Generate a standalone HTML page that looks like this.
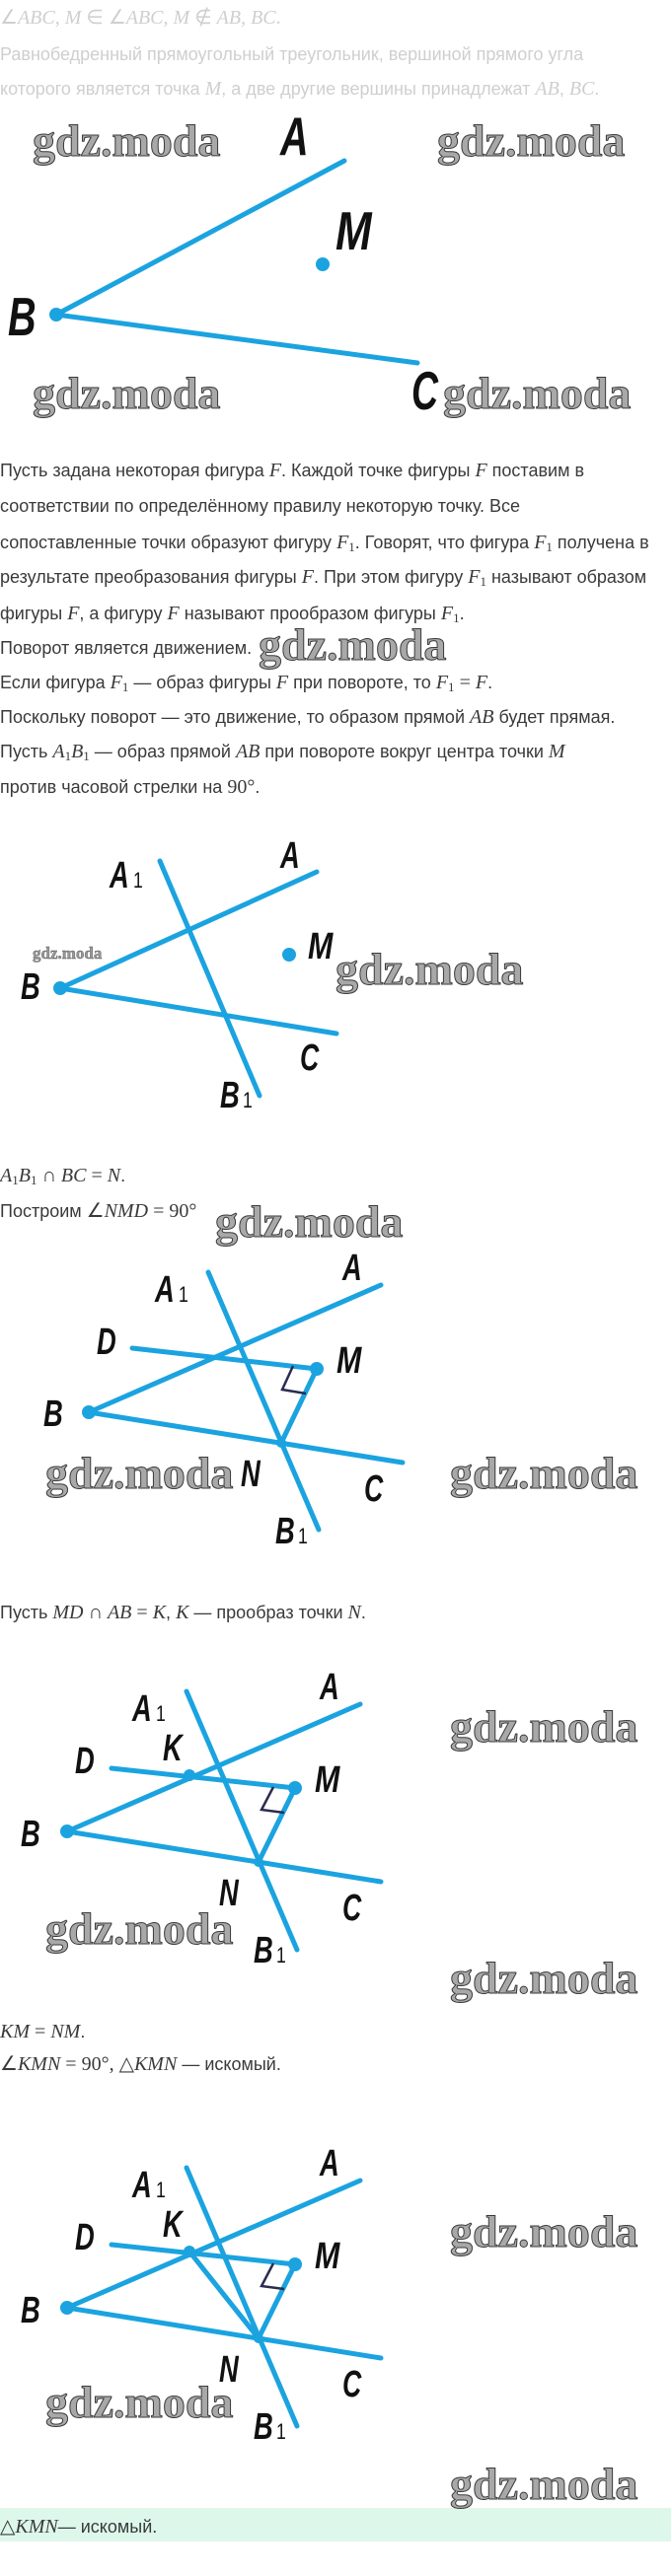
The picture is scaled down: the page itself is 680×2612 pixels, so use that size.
<!DOCTYPE html>
<html><head><meta charset="utf-8">
<style>
html,body{margin:0;padding:0;background:#fff;}
body{width:680px;height:2612px;position:relative;overflow:hidden;font-family:"Liberation Sans",sans-serif;}
.t{position:absolute;left:0;white-space:nowrap;font-size:18px;line-height:20px;color:#3a3a3a;}
.g{color:#cfcfcf;}
i{font-family:"Liberation Serif",serif;font-style:italic;font-size:20px;}
.s{font-family:"Liberation Serif",serif;font-size:20px;}
sub{font-family:"Liberation Serif",serif;font-size:13px;vertical-align:-3px;line-height:0;}
svg{position:absolute;left:0;top:0;}
.bar{position:absolute;left:0;top:2543px;width:680px;height:34px;background:#ddf8eb;}
</style></head><body>
<div class="bar"></div>
<div class="t g" style="top:8px"><span class="s">∠</span><i>ABC</i><span class="s">, </span><i>M</i><span class="s"> ∈ ∠</span><i>ABC</i><span class="s">, </span><i>M</i><span class="s"> ∉ </span><i>AB</i><span class="s">, </span><i>BC</i><span class="s">.</span></div>
<div class="t g" style="top:45px">Равнобедренный прямоугольный треугольник, вершиной прямого угла</div>
<div class="t g" style="top:80px">которого является точка <i>M</i>, а две другие вершины принадлежат <i>AB</i>, <i>BC</i>.</div>

<div class="t" style="top:467px">Пусть задана некоторая фигура <i>F</i>. Каждой точке фигуры <i>F</i> поставим в</div>
<div class="t" style="top:503px">соответствии по определённому правилу некоторую точку. Все</div>
<div class="t" style="top:540px">сопоставленные точки образуют фигуру <i>F</i><sub>1</sub>. Говорят, что фигура <i>F</i><sub>1</sub> получена в</div>
<div class="t" style="top:575px">результате преобразования фигуры <i>F</i>. При этом фигуру <i>F</i><sub>1</sub> называют образом</div>
<div class="t" style="top:612px">фигуры <i>F</i>, а фигуру <i>F</i> называют прообразом фигуры <i>F</i><sub>1</sub>.</div>
<div class="t" style="top:647px">Поворот является движением.</div>
<div class="t" style="top:682px">Если фигура <i>F</i><sub>1</sub> — образ фигуры <i>F</i> при повороте, то <i>F</i><sub>1</sub> <span class="s">=</span> <i>F</i>.</div>
<div class="t" style="top:717px">Поскольку поворот — это движение, то образом прямой <i>AB</i> будет прямая.</div>
<div class="t" style="top:752px">Пусть <i>A</i><sub>1</sub><i>B</i><sub>1</sub> — образ прямой <i>AB</i> при повороте вокруг центра точки <i>M</i></div>
<div class="t" style="top:788px">против часовой стрелки на <span class="s">90°</span>.</div>

<div class="t" style="top:1182px"><i>A</i><sub>1</sub><i>B</i><sub>1</sub> <span class="s">∩</span> <i>BC</i> <span class="s">=</span> <i>N</i>.</div>
<div class="t" style="top:1218px">Построим <span class="s">∠</span><i>NMD</i> <span class="s">= 90°</span></div>
<div class="t" style="top:1625px">Пусть <i>MD</i> <span class="s">∩</span> <i>AB</i> <span class="s">=</span> <i>K</i>, <i>K</i> — прообраз точки <i>N</i>.</div>
<div class="t" style="top:2050px"><i>KM</i> <span class="s">=</span> <i>NM</i>.</div>
<div class="t" style="top:2083px"><span class="s">∠</span><i>KMN</i> <span class="s">= 90°, △</span><i>KMN</i> — искомый.</div>
<div class="t" style="top:2552px"><span class="s">△</span><i>KMN</i>— искомый.</div>

<svg width="680" height="2612" viewBox="0 0 680 2612">
<defs>
<style>
.l{stroke:#1ba3e0;stroke-width:5;stroke-linecap:round;fill:none;}
.ra{stroke:#2b2b52;stroke-width:2.5;fill:none;}
.d{fill:#1ba3e0;}
.lb{font-family:"Liberation Sans",sans-serif;font-weight:bold;font-style:italic;fill:#111;}
.sb{font-family:"Liberation Sans",sans-serif;fill:#111;font-size:22px;}
.w{font-family:"Liberation Serif",serif;font-weight:bold;font-size:46px;fill:#a8a8a8;stroke:#3a3a3a;stroke-width:1;}
</style>
</defs>
<!-- Diagram 1 -->
<line class="l" x1="57" y1="319" x2="349" y2="163"/>
<line class="l" x1="57" y1="319" x2="423" y2="368"/>
<circle class="d" cx="57" cy="319" r="7"/>
<circle class="d" cx="327" cy="268" r="7"/>
<g class="lb" font-size="55">
<text transform="translate(284,157) scale(0.72,1)">A</text>
<text transform="translate(340,253) scale(0.8,1)">M</text>
<text transform="translate(8,340) scale(0.72,1)">B</text>
<text transform="translate(417,415) scale(0.68,1)">C</text>
</g>

<!-- Diagram 2 -->
<line class="l" x1="162" y1="873" x2="263" y2="1111"/>
<line class="l" x1="61" y1="1002" x2="321" y2="884"/>
<line class="l" x1="61" y1="1002" x2="341" y2="1048"/>
<circle class="d" cx="61" cy="1002" r="7"/>
<circle class="d" cx="293" cy="968" r="7"/>
<g class="lb" font-size="38">
<text transform="translate(284,880) scale(0.72,1)">A</text>
<text transform="translate(111,900) scale(0.72,1)">A</text>
<text transform="translate(312,972) scale(0.8,1)">M</text>
<text transform="translate(21,1013) scale(0.72,1)">B</text>
<text transform="translate(304,1085) scale(0.7,1)">C</text>
<text transform="translate(223,1123) scale(0.72,1)">B</text>
</g>
<text class="sb" transform="translate(135,900) scale(0.8,1)">1</text>
<text class="sb" transform="translate(246,1123) scale(0.8,1)">1</text>

<!-- Diagram 3 -->
<line class="l" x1="211" y1="1290" x2="323" y2="1551"/>
<line class="l" x1="90" y1="1432" x2="386" y2="1303"/>
<line class="l" x1="90" y1="1432" x2="408" y2="1483"/>
<line class="l" x1="134" y1="1367" x2="321" y2="1388"/>
<line class="l" x1="321" y1="1388" x2="285" y2="1463"/>
<polyline class="ra" points="297,1385 286,1409 310,1413"/>
<circle class="d" cx="90" cy="1432" r="7"/>
<circle class="d" cx="321" cy="1388" r="7"/>
<circle class="d" cx="285" cy="1463" r="5"/>
<g class="lb" font-size="38">
<text transform="translate(347,1298) scale(0.72,1)">A</text>
<text transform="translate(157,1320) scale(0.72,1)">A</text>
<text transform="translate(98,1373) scale(0.72,1)">D</text>
<text transform="translate(341,1392) scale(0.8,1)">M</text>
<text transform="translate(44,1446) scale(0.72,1)">B</text>
<text transform="translate(244,1507) scale(0.72,1)">N</text>
<text transform="translate(369,1522) scale(0.7,1)">C</text>
<text transform="translate(279,1565) scale(0.72,1)">B</text>
</g>
<text class="sb" transform="translate(181,1320) scale(0.8,1)">1</text>
<text class="sb" transform="translate(302,1565) scale(0.8,1)">1</text>

<!-- Diagram 4 and 5 -->
<g id="d5">
<line class="l" x1="189" y1="1715" x2="301" y2="1977"/>
<line class="l" x1="68" y1="1857" x2="365" y2="1728"/>
<line class="l" x1="68" y1="1857" x2="386" y2="1908"/>
<line class="l" x1="113" y1="1793" x2="299" y2="1813"/>
<line class="l" x1="299" y1="1813" x2="262" y2="1888"/>
<polyline class="ra" points="277,1812 265,1835 288,1838"/>
<circle class="d" cx="68" cy="1857" r="7"/>
<circle class="d" cx="299" cy="1813" r="7"/>
<circle class="d" cx="192" cy="1800" r="6"/>
<circle class="d" cx="262" cy="1888" r="5"/>
<g class="lb" font-size="38">
<text transform="translate(324,1723) scale(0.72,1)">A</text>
<text transform="translate(134,1745) scale(0.72,1)">A</text>
<text transform="translate(165,1785) scale(0.72,1)">K</text>
<text transform="translate(76,1798) scale(0.72,1)">D</text>
<text transform="translate(319,1817) scale(0.8,1)">M</text>
<text transform="translate(21,1872) scale(0.72,1)">B</text>
<text transform="translate(222,1932) scale(0.72,1)">N</text>
<text transform="translate(347,1947) scale(0.7,1)">C</text>
<text transform="translate(257,1990) scale(0.72,1)">B</text>
</g>
<text class="sb" transform="translate(158,1745) scale(0.8,1)">1</text>
<text class="sb" transform="translate(280,1990) scale(0.8,1)">1</text>
</g>
<g transform="translate(0,483)">
<line class="l" x1="189" y1="1715" x2="301" y2="1977"/>
<line class="l" x1="68" y1="1857" x2="365" y2="1728"/>
<line class="l" x1="68" y1="1857" x2="386" y2="1908"/>
<line class="l" x1="113" y1="1793" x2="299" y2="1813"/>
<line class="l" x1="299" y1="1813" x2="262" y2="1888"/>
<line class="l" x1="192" y1="1800" x2="262" y2="1888"/>
<polyline class="ra" points="277,1812 265,1835 288,1838"/>
<circle class="d" cx="68" cy="1857" r="7"/>
<circle class="d" cx="299" cy="1813" r="7"/>
<circle class="d" cx="192" cy="1800" r="6"/>
<circle class="d" cx="262" cy="1888" r="5"/>
<g class="lb" font-size="38">
<text transform="translate(324,1723) scale(0.72,1)">A</text>
<text transform="translate(134,1745) scale(0.72,1)">A</text>
<text transform="translate(165,1785) scale(0.72,1)">K</text>
<text transform="translate(76,1798) scale(0.72,1)">D</text>
<text transform="translate(319,1817) scale(0.8,1)">M</text>
<text transform="translate(21,1872) scale(0.72,1)">B</text>
<text transform="translate(222,1932) scale(0.72,1)">N</text>
<text transform="translate(347,1947) scale(0.7,1)">C</text>
<text transform="translate(257,1990) scale(0.72,1)">B</text>
</g>
<text class="sb" transform="translate(158,1745) scale(0.8,1)">1</text>
<text class="sb" transform="translate(280,1990) scale(0.8,1)">1</text>
</g>

<!-- watermarks -->
<g class="w">
<text x="33" y="158">gdz.moda</text>
<text x="443" y="158">gdz.moda</text>
<text x="33" y="414">gdz.moda</text>
<text x="449" y="414">gdz.moda</text>
<text x="262" y="669">gdz.moda</text>
<text x="340" y="998">gdz.moda</text>
<text x="218" y="1254">gdz.moda</text>
<text x="46" y="1509">gdz.moda</text>
<text x="456" y="1509">gdz.moda</text>
<text x="456" y="1766">gdz.moda</text>
<text x="46" y="1971">gdz.moda</text>
<text x="456" y="2021">gdz.moda</text>
<text x="456" y="2278">gdz.moda</text>
<text x="46" y="2451">gdz.moda</text>
<text x="456" y="2534">gdz.moda</text>
</g>
<text x="33" y="972" font-family="Liberation Serif,serif" font-weight="bold" font-size="17" fill="#999" stroke="#555" stroke-width="0.4">gdz.moda</text>
</svg>
</body></html>
